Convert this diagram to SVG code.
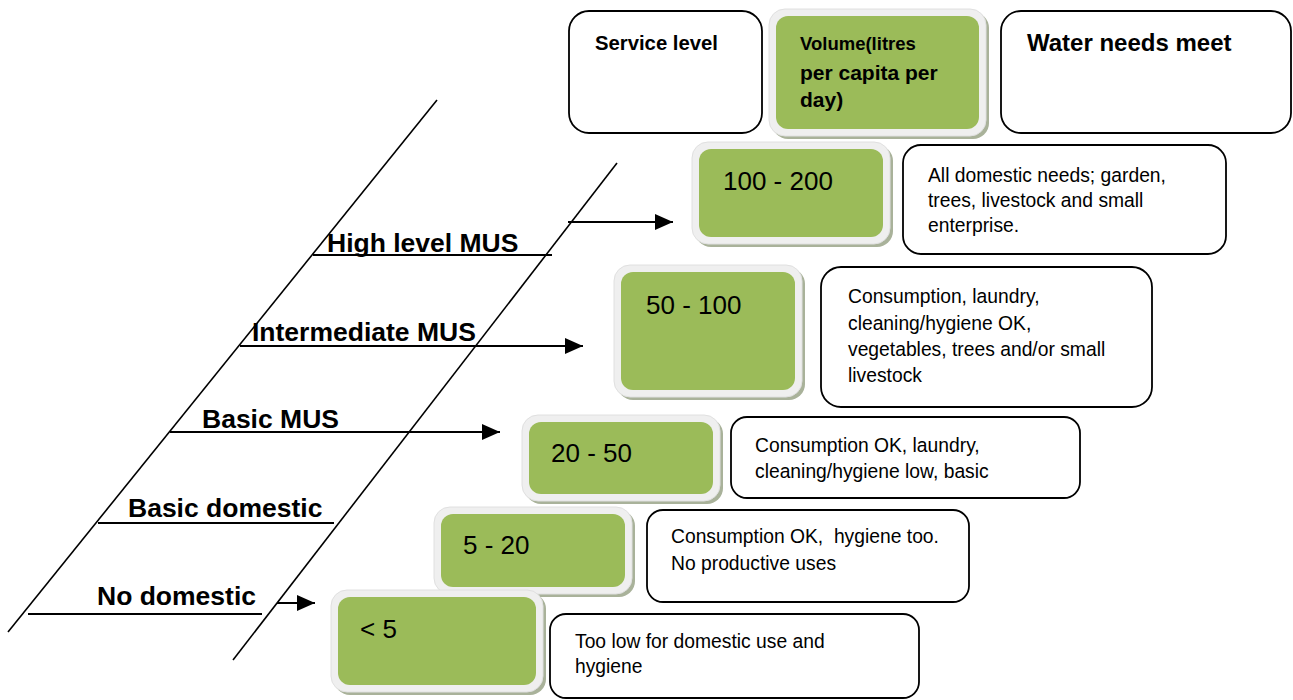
<svg xmlns="http://www.w3.org/2000/svg" width="1293" height="700" viewBox="0 0 1293 700">
<defs>
<style>
.box{fill:#ffffff;stroke:#000000;stroke-width:1.8}
.shadow{fill:#a9b29a}
.frame{fill:#efefef;stroke:#e0e0e0;stroke-width:1}
.green{fill:#9bbb59}
.hdr{font-family:"Liberation Sans",Arial,sans-serif;font-weight:bold;fill:#000}
.lbl{font-family:"Liberation Sans",Arial,sans-serif;font-weight:bold;font-size:26.5px;fill:#000}
.num{font-family:"Liberation Sans",Arial,sans-serif;font-size:26px;fill:#000}
.desc{font-family:"Liberation Sans",Arial,sans-serif;font-size:19.3px;fill:#000;white-space:pre}
.slant{stroke:#000;stroke-width:1.6;fill:none}
.hline{stroke:#000;stroke-width:2;fill:none}
.arr{stroke:#000;stroke-width:2;fill:none;marker-end:url(#ah)}
</style>
<marker id="ah" markerUnits="userSpaceOnUse" markerWidth="19" markerHeight="16" refX="18" refY="8" orient="auto">
<path d="M0,0 L18,8 L0,16 Z" fill="#000"/>
</marker>
</defs>
<rect width="1293" height="700" fill="#ffffff"/>

<g id="header-service">
<rect class="box" x="569" y="11" width="193" height="122" rx="20"/>
<text class="hdr" x="595" y="50" font-size="20.3">Service level</text>
</g>

<g id="header-volume">
<rect class="shadow" x="772" y="12" width="217" height="127" rx="16"/>
<rect class="frame" x="769" y="9" width="217" height="127" rx="16"/>
<rect class="green" x="776" y="16" width="203" height="113" rx="12"/>
<text class="hdr" x="800" y="50" font-size="18.5">Volume(litres</text>
<text class="hdr" x="800" y="80" font-size="21">per capita per</text>
<text class="hdr" x="800" y="107" font-size="21">day)</text>
</g>

<g id="header-needs">
<rect class="box" x="1001" y="11" width="290" height="122" rx="20"/>
<text class="hdr" x="1027" y="51" font-size="24">Water needs meet</text>
</g>

<g id="connectors">
<line class="slant" x1="437" y1="100" x2="8" y2="632"/>
<line class="slant" x1="617" y1="163" x2="233" y2="660"/>
<line class="hline" x1="313" y1="255" x2="552" y2="255"/>
<line class="arr" x1="568" y1="222" x2="673" y2="222"/>
<line class="arr" x1="240" y1="346" x2="583" y2="346"/>
<line class="arr" x1="170" y1="432" x2="500" y2="432"/>
<line class="hline" x1="98" y1="523" x2="334" y2="523"/>
<line class="hline" x1="28" y1="614" x2="262" y2="614"/>
<line class="arr" x1="277" y1="603" x2="315" y2="603"/>
</g>

<g id="label-high">
<text class="lbl" x="327" y="252">High level MUS</text>
</g>
<g id="label-intermediate">
<text class="lbl" x="252" y="341">Intermediate MUS</text>
</g>
<g id="label-basic-mus">
<text class="lbl" x="202" y="428">Basic MUS</text>
</g>
<g id="label-basic-domestic">
<text class="lbl" x="128" y="517">Basic domestic</text>
</g>
<g id="label-no-domestic">
<text class="lbl" x="97" y="605">No domestic</text>
</g>

<g id="vol-100-200">
<rect class="shadow" x="695" y="145" width="198" height="102" rx="16"/>
<rect class="frame" x="692" y="142" width="198" height="102" rx="16"/>
<rect class="green" x="699" y="149" width="184" height="88" rx="12"/>
<text class="num" x="723" y="190">100 - 200</text>
</g>

<g id="vol-50-100">
<rect class="shadow" x="617" y="268" width="188" height="132" rx="16"/>
<rect class="frame" x="614" y="265" width="188" height="132" rx="16"/>
<rect class="green" x="621" y="272" width="174" height="118" rx="12"/>
<text class="num" x="646" y="314">50 - 100</text>
</g>

<g id="vol-20-50">
<rect class="shadow" x="525" y="418" width="198" height="86" rx="16"/>
<rect class="frame" x="522" y="415" width="198" height="86" rx="16"/>
<rect class="green" x="529" y="422" width="184" height="72" rx="12"/>
<text class="num" x="551" y="462">20 - 50</text>
</g>

<g id="vol-5-20">
<rect class="shadow" x="437" y="510" width="198" height="87" rx="16"/>
<rect class="frame" x="434" y="507" width="198" height="87" rx="16"/>
<rect class="green" x="441" y="514" width="184" height="73" rx="12"/>
<text class="num" x="463" y="554">5 - 20</text>
</g>

<g id="vol-lt5">
<rect class="shadow" x="334" y="593" width="212" height="102" rx="16"/>
<rect class="frame" x="331" y="590" width="212" height="102" rx="16"/>
<rect class="green" x="338" y="597" width="198" height="88" rx="12"/>
<text class="num" x="360" y="638">&lt; 5</text>
</g>

<g id="need-100-200">
<rect class="box" x="903" y="145" width="323" height="109" rx="18"/>
<text class="desc" x="928" y="182">All domestic needs; garden,</text>
<text class="desc" x="928" y="207">trees, livestock and small</text>
<text class="desc" x="928" y="232">enterprise.</text>
</g>

<g id="need-50-100">
<rect class="box" x="821" y="267" width="331" height="140" rx="20"/>
<text class="desc" x="848" y="303">Consumption, laundry,</text>
<text class="desc" x="848" y="330">cleaning/hygiene OK,</text>
<text class="desc" x="848" y="356">vegetables, trees and/or small</text>
<text class="desc" x="848" y="382">livestock</text>
</g>

<g id="need-20-50">
<rect class="box" x="731" y="417" width="349" height="81" rx="16"/>
<text class="desc" x="755" y="452">Consumption OK, laundry,</text>
<text class="desc" x="755" y="478">cleaning/hygiene low, basic</text>
</g>

<g id="need-5-20">
<rect class="box" x="647" y="510" width="322" height="92" rx="16"/>
<text class="desc" x="671" y="543" xml:space="preserve">Consumption OK,  hygiene too.</text>
<text class="desc" x="671" y="570">No productive uses</text>
</g>

<g id="need-lt5">
<rect class="box" x="550" y="614" width="369" height="84" rx="16"/>
<text class="desc" x="575" y="648">Too low for domestic use and</text>
<text class="desc" x="575" y="673">hygiene</text>
</g>
</svg>
